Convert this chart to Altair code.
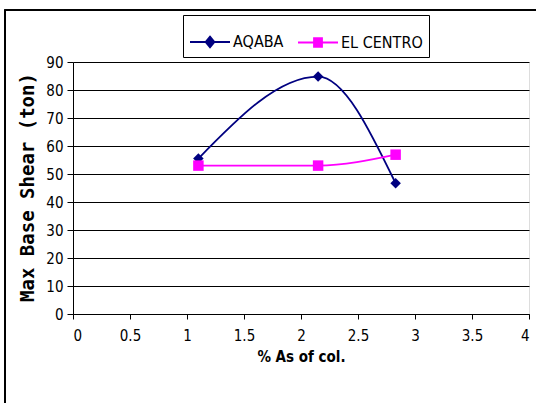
import altair as alt
import pandas as pd

series_names = ["AQABA", "EL CENTRO"]
x_aqaba = [1.1, 2.15, 2.83]
y_aqaba = [55.5, 84.8, 46.7]
x_elcentro = [1.1, 2.15, 2.83]
y_elcentro = [53.0, 53.0, 56.9]
colors = ["#000080", "#FF00FF"]

rows = []
for xv, yv in zip(x_aqaba, y_aqaba):
    rows.append({"x": xv, "y": yv, "series": series_names[0]})
for xv, yv in zip(x_elcentro, y_elcentro):
    rows.append({"x": xv, "y": yv, "series": series_names[1]})
df = pd.DataFrame(rows)

font = "DejaVu Sans Condensed, Liberation Sans Narrow, Liberation Sans, sans-serif"

xenc = alt.X("x:Q", scale=alt.Scale(domain=[0, 4], nice=False),
             axis=alt.Axis(values=[0, 0.5, 1, 1.5, 2, 2.5, 3, 3.5, 4], format="~g",
                           grid=False, title="% As of col.", titleFontWeight="bold",
                           titleFontSize=15, titlePadding=6, titleFont=font,
                           labelFont=font, labelFontSize=15, labelPadding=9,
                           tickSize=5, domainColor="#000", tickColor="#000",
                           labelColor="#000", titleColor="#000"))
yenc = alt.Y("y:Q", scale=alt.Scale(domain=[0, 90], nice=False),
             axis=alt.Axis(values=list(range(0, 100, 10)), grid=True, gridColor="#000",
                           gridWidth=1, title="Max Base Shear (ton)",
                           titleFont="DejaVu Sans Mono", titleFontWeight="bold", titleFontSize=19,
                           titleX=-46, titleY=125, titleAngle=270, titleBaseline="middle",
                           titleColor="#000",
                           labelFont=font, labelFontSize=15, labelPadding=4,
                           tickSize=6, domainColor="#000", tickColor="#000",
                           labelColor="#000"))

cscale = alt.Scale(domain=series_names, range=colors)

lines = alt.Chart(df).mark_line(strokeWidth=1.8, interpolate="monotone").encode(
    x=xenc, y=yenc,
    color=alt.Color("series:N", scale=cscale, legend=None),
)

points = alt.Chart(df).mark_point(filled=True, opacity=1, size=110).encode(
    x=xenc, y=yenc,
    color=alt.Color("series:N", scale=cscale, legend=None),
    shape=alt.Shape("series:N", scale=alt.Scale(domain=series_names, range=["diamond", "square"]), legend=None),
)

legend_paths = [
    "M-1,0L1,0M0,-0.27L0.22,0L0,0.27L-0.22,0Z",
    "M-1,0L1,0M-0.2,-0.22L0.2,-0.22L0.2,0.22L-0.2,0.22Z",
]

leg = alt.Legend(title=None, orient="none", legendX=110, legendY=-47,
                 direction="horizontal", strokeColor="#000",
                 fillColor="#fff", padding=6, symbolOpacity=1,
                 symbolStrokeWidth=1.8, symbolSize=1600,
                 labelFont=font, labelFontSize=16, labelColor="#000",
                 columnPadding=10, labelOffset=2)

legend_layer = alt.Chart(df).transform_filter("false").mark_point(
    size=1600, strokeWidth=1.8, opacity=1, fillOpacity=1, strokeOpacity=1
).encode(
    x=xenc, y=yenc,
    fill=alt.Fill("series:N", scale=cscale, legend=leg),
    stroke=alt.Stroke("series:N", scale=cscale, legend=leg),
    shape=alt.Shape("series:N", scale=alt.Scale(domain=series_names, range=legend_paths), legend=leg),
)

frame = alt.Chart(df).mark_rect(fill=None, stroke="#000", strokeWidth=1.2).encode(
    x=alt.value(-68), x2=alt.value(470), y=alt.value(-52), y2=alt.value(350)
)

chart = alt.layer(frame, lines, points, legend_layer).resolve_scale(
    color="independent", shape="independent", fill="independent", stroke="independent"
).properties(
    width=456, height=252,
    autosize=alt.AutoSizeParams(type="none"),
    padding={"left": 73, "top": 62, "right": 7, "bottom": 89},
).configure_view(stroke="#888", strokeWidth=1.5).configure(background="#fff")

chart.save("out.html", embed_options={"renderer": "svg", "actions": False})
